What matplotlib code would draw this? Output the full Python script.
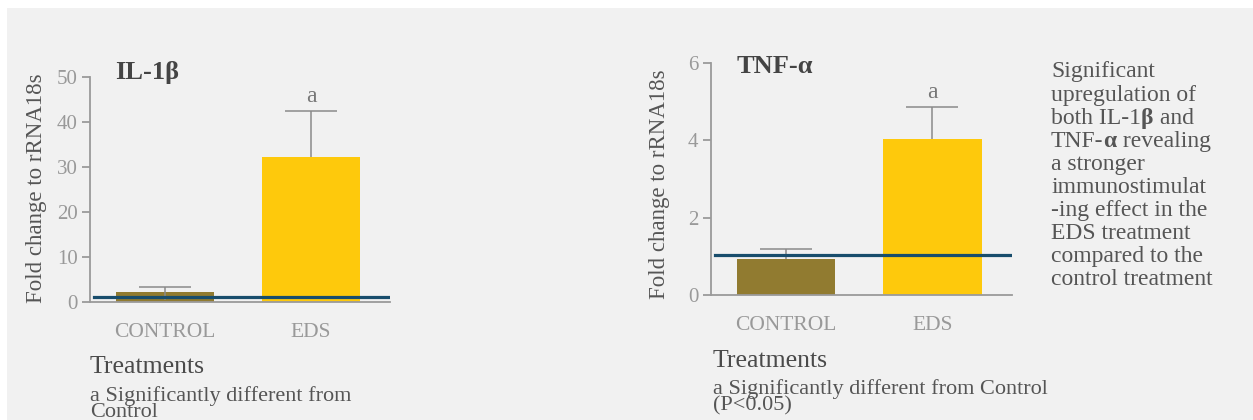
import matplotlib.pyplot as plt
from matplotlib.patches import Rectangle

plt.rcParams['font.family'] = ['Liberation Serif', 'DejaVu Serif']

# data
categories = ['CONTROL', 'EDS']
il1b_values = [2.2, 32.1]
il1b_err_up = [1.1, 10.2]
il1b_err_lo = [1.9, 0.0]
il1b_baseline = 1.1
tnf_values = [0.94, 4.03]
tnf_err_up = [0.24, 0.82]
tnf_err_lo = [0.0, 0.0]
tnf_baseline = 1.03

bar_colors = ['#917b30', '#fec90c']
line_color = '#184d6c'
axis_gray = '#9a9a9a'
text_gray = '#555555'

W, H = 1253, 420
fig = plt.figure(figsize=(W / 100, H / 100), dpi=100, facecolor='white')
fig.patches.append(Rectangle((7 / W, 0), (W - 7) / W, (H - 8) / H,
                             transform=fig.transFigure, facecolor='#f1f1f1',
                             edgecolor='none', zorder=-10))


def px(x, y):
    return x / W, 1 - y / H


def bar_panel(rect, values, err_lo, err_up, baseline, ymax, yticks, title,
              title_y):
    ax = fig.add_axes(rect)
    ax.set_facecolor('none')
    x = range(len(categories))
    ax.bar(x, values, width=0.67, color=bar_colors, zorder=2)
    eb = ax.errorbar(x, values, yerr=[err_lo, err_up], fmt='none',
                     ecolor='#8a8a8a', elinewidth=1.1, capsize=18.5,
                     capthick=1.1, zorder=3)
    eb[1][0].set_visible(False)  # only the upper caps are drawn
    ax.axhline(baseline, xmin=0.012, xmax=1, color=line_color, lw=2.3, zorder=4)
    ax.annotate('a', (1, values[1] + err_up[1]), xytext=(0, 3),
                textcoords='offset points', ha='center', va='bottom',
                fontsize=17, color='#777777')
    ax.set_xlim(-0.51, 1.54)
    ax.set_ylim(0, ymax)
    ax.set_yticks(yticks)
    ax.set_xticks(list(x))
    ax.set_xticklabels(categories)
    for s in ['top', 'right']:
        ax.spines[s].set_visible(False)
    for s in ['left', 'bottom']:
        ax.spines[s].set_color(axis_gray)
        ax.spines[s].set_linewidth(1.3)
    ax.tick_params(axis='y', length=6, width=1.3, color=axis_gray,
                   labelcolor='#999999', labelsize=15, pad=3)
    ax.tick_params(axis='x', length=0, labelcolor='#999999', labelsize=15.5,
                   pad=15)
    ax.text(0.085, title_y, title, transform=ax.transAxes, ha='left',
            va='center', fontsize=19, fontweight='bold', color='#444444')
    return ax


bar_panel([90 / W, 118.3 / H, 300 / W, 225 / H], il1b_values, il1b_err_lo,
          il1b_err_up, il1b_baseline, 50, [0, 10, 20, 30, 40, 50], 'IL-1β',
          1.02)
bar_panel([711 / W, 125 / H, 300.7 / W, 232.3 / H], tnf_values, tnf_err_lo,
          tnf_err_up, tnf_baseline, 6, [0, 2, 4, 6], 'TNF-α', 0.985)

# axis labels and notes
for xy in [(37, 188), (659, 184)]:
    fig.text(*px(*xy), 'Fold change to rRNA18s', rotation=90, ha='center',
             va='center', fontsize=16.5, color=text_gray)

fig.text(*px(90, 367), 'Treatments', ha='left', va='center', fontsize=18.5,
         color='#4a4a4a')
fig.text(*px(90, 404), 'a Significantly different from\nControl', ha='left',
         va='center', fontsize=16, color=text_gray, linespacing=0.8)
fig.text(*px(713, 361), 'Treatments', ha='left', va='center', fontsize=18.5,
         color='#4a4a4a')
fig.text(*px(713, 397), 'a Significantly different from Control\n(P<0.05)',
         ha='left', va='center', fontsize=16, color=text_gray, linespacing=0.8)

# side note, with bold greek letters
note_lines = [
    [('Significant', 'normal')],
    [('upregulation of', 'normal')],
    [('both IL-1', 'normal'), ('β', 'bold'), (' and', 'normal')],
    [('TNF-', 'normal'), ('α', 'bold'), (' revealing', 'normal')],
    [('a stronger', 'normal')],
    [('immunostimulat', 'normal')],
    [('-ing effect in the', 'normal')],
    [('EDS treatment', 'normal')],
    [('compared to the', 'normal')],
    [('control treatment', 'normal')],
]
renderer = fig.canvas.get_renderer()
for i, parts in enumerate(note_lines):
    x0 = 1051
    y0 = 72 + i * 23.1
    for txt, wt in parts:
        t = fig.text(*px(x0, y0), txt, ha='left', va='center', fontsize=17,
                     fontweight=wt, color=text_gray)
        bb = t.get_window_extent(renderer)
        x0 = bb.x1

fig.savefig('out.png', dpi=100, facecolor='white')
